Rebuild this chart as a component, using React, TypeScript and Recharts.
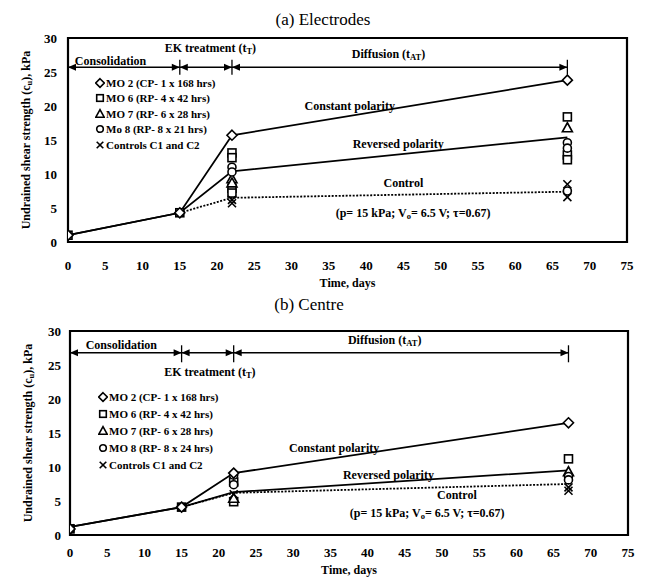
import React from 'react';
import {
  ComposedChart,
  Line,
  Scatter,
  XAxis,
  YAxis,
  ReferenceLine,
  ReferenceDot,
  ReferenceArea,
  Legend,
} from 'recharts';

const FONT = '"Liberation Serif", "Times New Roman", Times, serif';

type Pt = [number, number];

// axis ticks
const xTicks = [0, 5, 10, 15, 20, 25, 30, 35, 40, 45, 50, 55, 60, 65, 70, 75];
const yTicks = [0, 5, 10, 15, 20, 25, 30];

// (a) Electrodes - trend lines
const aLineDays = [0, 15, 22, 67];
const aConstant = [1.0, 4.3, 15.7, 23.8];
const aReversed = [1.0, 4.3, 10.4, 15.4];
const aControlDays = [15, 22, 67];
const aControl = [4.3, 6.5, 7.4];

// (a) Electrodes - measured points
const aDiamonds: Pt[] = [[0, 1.0], [15, 4.3], [22, 15.7], [67, 23.8]];
const aSquares: Pt[] = [[0, 1.0], [15, 4.3], [22, 13.1], [22, 12.4], [22, 7.9], [22, 7.2], [67, 18.4], [67, 12.8], [67, 12.1]];
const aTriangles: Pt[] = [[22, 9.3], [22, 8.7], [67, 16.8]];
const aCircles: Pt[] = [[22, 11.0], [22, 10.3], [67, 14.6], [67, 13.8], [67, 7.5]];
const aCrosses: Pt[] = [[22, 6.2], [22, 5.7], [67, 8.5], [67, 6.6]];
const aLegend = [
  'MO 2 (CP- 1 x 168 hrs)',
  'MO 6 (RP- 4 x 42 hrs)',
  'MO 7 (RP- 6 x 28 hrs)',
  'Mo 8 (RP- 8 x 21 hrs)',
  'Controls C1 and C2',
];

// (b) Centre - trend lines
const bLineDays = [0, 15, 22, 67];
const bConstant = [1.2, 4.1, 9.1, 16.5];
const bReversed = [1.2, 4.1, 6.3, 9.5];
const bControlDays = [15, 22, 67];
const bControl = [4.1, 6.2, 7.5];

// (b) Centre - measured points
const bDiamonds: Pt[] = [[0, 0.9], [15, 4.1], [22, 9.1], [67, 16.5]];
const bSquares: Pt[] = [[0, 0.9], [22, 7.8], [22, 4.9], [67, 11.2]];
const bSolidSquares: Pt[] = [[15, 4.1]];
const bTriangles: Pt[] = [[22, 5.4], [67, 9.3]];
const bCircles: Pt[] = [[0, 0.9], [22, 8.8], [22, 7.4], [67, 8.6], [67, 8.1]];
const bCrosses: Pt[] = [[0, 1.0], [22, 6.0], [67, 7.0], [67, 6.5]];
const bLegend = [
  'MO 2 (CP- 1 x 168 hrs)',
  'MO 6 (RP- 4 x 42 hrs)',
  'MO 7 (RP- 6 x 28 hrs)',
  'MO 8 (RP- 8 x 24 hrs)',
  'Controls C1 and C2',
];

const legendKinds = ['diamond', 'square', 'triangle', 'circle', 'cross'];

const rows = (days: number[], vals: number[]) => days.map((x, i) => ({ x, y: vals[i] }));
const pairs = (p: Pt[]) => p.map(([x, y]) => ({ x, y }));

function markerPath(kind: string, cx: number, cy: number, filled = false, s = 4) {
  const fill = filled ? '#000' : '#fff';
  const common = { stroke: '#000', strokeWidth: 1.6, fill };
  const d = s + 1;
  switch (kind) {
    case 'diamond':
      return <polygon points={`${cx},${cy - d} ${cx + d},${cy} ${cx},${cy + d} ${cx - d},${cy}`} {...common} />;
    case 'square':
      return <rect x={cx - s} y={cy - s} width={2 * s} height={2 * s} {...common} />;
    case 'triangle':
      return <polygon points={`${cx},${cy - d} ${cx + d},${cy + s} ${cx - d},${cy + s}`} {...common} />;
    case 'circle':
      return <circle cx={cx} cy={cy} r={s} {...common} />;
    default:
      return (
        <g stroke="#000" strokeWidth={1.6}>
          <line x1={cx - s} y1={cy - s} x2={cx + s} y2={cy + s} />
          <line x1={cx - s} y1={cy + s} x2={cx + s} y2={cy - s} />
        </g>
      );
  }
}

const shapeOf = (kind: string, filled = false) => (p: any) =>
  p.cx == null || p.cy == null ? <g /> : markerPath(kind, p.cx, p.cy, filled);

function ArrowShape(p: any) {
  const { x1, y1, x2, y2 } = p;
  const head = (x: number, y: number, dir: number) => (
    <polygon points={`${x},${y} ${x - dir * 8},${y - 3.5} ${x - dir * 8},${y + 3.5}`} fill="#000" />
  );
  return (
    <g>
      <line x1={x1} y1={y1} x2={x2} y2={y2} stroke="#000" strokeWidth={1.5} />
      {head(Math.min(x1, x2), y1, -1)}
      {head(Math.max(x1, x2), y2, 1)}
    </g>
  );
}

const textStyle = { fontFamily: FONT, fontWeight: 'bold' as const, fill: '#000' };

const noteShape = (content: React.ReactNode, size = 12) => (p: any) => (
  <text x={p.cx} y={p.cy} textAnchor="middle" dominantBaseline="central" fontSize={size} {...textStyle}>
    {content}
  </text>
);

const sub = (main: string, s: string, tail: string) => (
  <>
    <tspan>{main}</tspan>
    <tspan dy={3} fontSize={8.5}>{s}</tspan>
    <tspan dy={-3}>{tail}</tspan>
  </>
);

const pNote = (
  <>
    <tspan>(p= 15 kPa; V</tspan>
    <tspan dy={3} fontSize={8.5}>o</tspan>
    <tspan dy={-3}>= 6.5 V; τ=0.67)</tspan>
  </>
);

type Note = { x: number; y: number; content: React.ReactNode };

type PanelProps = {
  title: string;
  titleX: number;
  titleY: number;
  top: number;
  height: number;
  margin: { top: number; right: number; left: number; bottom: number };
  xTickMargin: number;
  yTickMargin: number;
  xLabelDy: number;
  lineDays: number[];
  constant: number[];
  reversed: number[];
  controlDays: number[];
  control: number[];
  diamonds: Pt[];
  squares: Pt[];
  solidSquares: Pt[];
  triangles: Pt[];
  circles: Pt[];
  crosses: Pt[];
  arrowY: number;
  barLow: number;
  barHigh: number;
  notes: Note[];
  legend: string[];
  legendTop: number;
  legendLeft: number;
  legendGap: number;
};

function Panel(props: PanelProps) {
  const {
    title, titleX, titleY, top, height, margin, xTickMargin, yTickMargin, xLabelDy,
    lineDays, constant, reversed, controlDays, control,
    diamonds, squares, solidSquares, triangles, circles, crosses,
    arrowY, barLow, barHigh, notes, legend, legendTop, legendLeft, legendGap,
  } = props;

  const legendContent = () => (
    <div style={{ fontFamily: FONT, fontWeight: 'bold', fontSize: 11, color: '#000' }}>
      {legend.map((name, i) => (
        <div key={name} style={{ height: legendGap, display: 'flex', alignItems: 'center' }}>
          <svg width={10} height={12} style={{ marginRight: 1 }}>
            {markerPath(legendKinds[i], 5, 6, false, 3.3)}
          </svg>
          <span>{name}</span>
        </div>
      ))}
    </div>
  );

  return (
    <div style={{ position: 'absolute', left: 0, top, width: 648, height }}>
      <div
        style={{
          position: 'absolute',
          left: titleX - 100,
          width: 200,
          top: titleY - 10,
          textAlign: 'center',
          fontFamily: FONT,
          fontSize: 17,
          lineHeight: '20px',
          color: '#000',
        }}
      >
        {title}
      </div>
      <ComposedChart width={648} height={height} margin={margin}>
        <XAxis
          type="number"
          dataKey="x"
          domain={[0, 75]}
          ticks={xTicks}
          interval={0}
          allowDataOverflow
          axisLine={false}
          tickLine={false}
          height={40}
          tickMargin={xTickMargin}
          tick={{ fontSize: 13, ...textStyle }}
          label={(p: any) => {
            const vb = p.viewBox;
            return (
              <text x={vb.x + vb.width / 2} y={vb.y + xLabelDy} textAnchor="middle" dominantBaseline="central" fontSize={12} {...textStyle}>
                Time, days
              </text>
            );
          }}
        />
        <YAxis
          type="number"
          domain={[0, 30]}
          ticks={yTicks}
          interval={0}
          allowDataOverflow
          axisLine={false}
          tickLine={false}
          width={48}
          tickMargin={yTickMargin}
          tick={{ fontSize: 13, ...textStyle }}
          label={(p: any) => {
            const vb = p.viewBox;
            const cx = vb.x + 6;
            const cy = vb.y + vb.height / 2;
            return (
              <text x={cx} y={cy} transform={`rotate(-90 ${cx} ${cy})`} textAnchor="middle" dominantBaseline="central" fontSize={12} {...textStyle}>
                {sub('Undrained shear strength (c', 'u', '), kPa')}
              </text>
            );
          }}
        />
        <ReferenceArea x1={0} x2={75} y1={0} y2={30} fill="none" stroke="#000" strokeWidth={2.2} ifOverflow="visible" />

        <ReferenceLine segment={[{ x: 0, y: arrowY }, { x: 15, y: arrowY }]} shape={ArrowShape} ifOverflow="visible" />
        <ReferenceLine segment={[{ x: 15, y: arrowY }, { x: 22, y: arrowY }]} shape={ArrowShape} ifOverflow="visible" />
        <ReferenceLine segment={[{ x: 22, y: arrowY }, { x: 67, y: arrowY }]} shape={ArrowShape} ifOverflow="visible" />
        {[15, 22, 67].map((d) => (
          <ReferenceLine key={d} segment={[{ x: d, y: barLow }, { x: d, y: barHigh }]} stroke="#000" strokeWidth={1.3} ifOverflow="visible" />
        ))}

        <Line data={rows(lineDays, constant)} dataKey="y" type="linear" stroke="#000" strokeWidth={1.8} dot={false} activeDot={false} isAnimationActive={false} />
        <Line data={rows(lineDays, reversed)} dataKey="y" type="linear" stroke="#000" strokeWidth={1.8} dot={false} activeDot={false} isAnimationActive={false} />
        <Line data={rows(controlDays, control)} dataKey="y" type="linear" stroke="#000" strokeWidth={1.8} strokeDasharray="2 1.5" dot={false} activeDot={false} isAnimationActive={false} />

        <Scatter data={pairs(squares)} dataKey="y" shape={shapeOf('square')} isAnimationActive={false} />
        <Scatter data={pairs(solidSquares)} dataKey="y" shape={shapeOf('square', true)} isAnimationActive={false} />
        <Scatter data={pairs(triangles)} dataKey="y" shape={shapeOf('triangle')} isAnimationActive={false} />
        <Scatter data={pairs(circles)} dataKey="y" shape={shapeOf('circle')} isAnimationActive={false} />
        <Scatter data={pairs(crosses)} dataKey="y" shape={shapeOf('cross')} isAnimationActive={false} />
        <Scatter data={pairs(diamonds)} dataKey="y" shape={shapeOf('diamond')} isAnimationActive={false} />

        {notes.map((n, i) => (
          <ReferenceDot key={i} x={n.x} y={n.y} r={0} shape={noteShape(n.content)} ifOverflow="visible" />
        ))}

        <Legend
          layout="vertical"
          align="center"
          verticalAlign="middle"
          content={legendContent}
          wrapperStyle={{ top: legendTop, left: legendLeft, width: 'auto', height: 'auto' }}
        />
      </ComposedChart>
    </div>
  );
}

const aNotes: Note[] = [
  { x: 5.7, y: 26.6, content: 'Consolidation' },
  { x: 19.1, y: 28.5, content: sub('EK treatment (t', 'T', ')') },
  { x: 43, y: 27.6, content: sub('Diffusion  (t', 'AT', ')') },
  { x: 37.8, y: 20.0, content: 'Constant polarity' },
  { x: 44.3, y: 14.4, content: 'Reversed polarity' },
  { x: 45, y: 8.7, content: 'Control' },
  { x: 46.3, y: 4.3, content: pNote },
];

const bNotes: Note[] = [
  { x: 6.9, y: 27.9, content: 'Consolidation' },
  { x: 18.8, y: 24.0, content: sub('EK treatment (t', 'T', ')') },
  { x: 42.3, y: 28.7, content: sub('Diffusion (t', 'AT', ')') },
  { x: 35.5, y: 12.8, content: 'Constant polarity' },
  { x: 42.8, y: 8.8, content: 'Reversed polarity' },
  { x: 52, y: 5.9, content: 'Control' },
  { x: 48, y: 3.2, content: pNote },
];

export default function App() {
  return (
    <div style={{ position: 'absolute', left: 0, top: 0, width: 648, height: 582, background: '#fff' }}>
      <Panel
        title="(a) Electrodes"
        titleX={323}
        titleY={20}
        top={0}
        height={298}
        margin={{ top: 38, right: 21, left: 20, bottom: 16 }}
        xTickMargin={13}
        yTickMargin={5}
        xLabelDy={41}
        lineDays={aLineDays}
        constant={aConstant}
        reversed={aReversed}
        controlDays={aControlDays}
        control={aControl}
        diamonds={aDiamonds}
        squares={aSquares}
        solidSquares={[]}
        triangles={aTriangles}
        circles={aCircles}
        crosses={aCrosses}
        arrowY={25.7}
        barLow={24.6}
        barHigh={26.8}
        notes={aNotes}
        legend={aLegend}
        legendTop={75}
        legendLeft={95}
        legendGap={15.5}
      />
      <Panel
        title="(b) Centre"
        titleX={309}
        titleY={15}
        top={290}
        height={292}
        margin={{ top: 41, right: 20, left: 22, bottom: 7 }}
        xTickMargin={7}
        yTickMargin={3}
        xLabelDy={35}
        lineDays={bLineDays}
        constant={bConstant}
        reversed={bReversed}
        controlDays={bControlDays}
        control={bControl}
        diamonds={bDiamonds}
        squares={bSquares}
        solidSquares={bSolidSquares}
        triangles={bTriangles}
        circles={bCircles}
        crosses={bCrosses}
        arrowY={26.8}
        barLow={25.4}
        barHigh={27.9}
        notes={bNotes}
        legend={bLegend}
        legendTop={99}
        legendLeft={98}
        legendGap={16.8}
      />
    </div>
  );
}
